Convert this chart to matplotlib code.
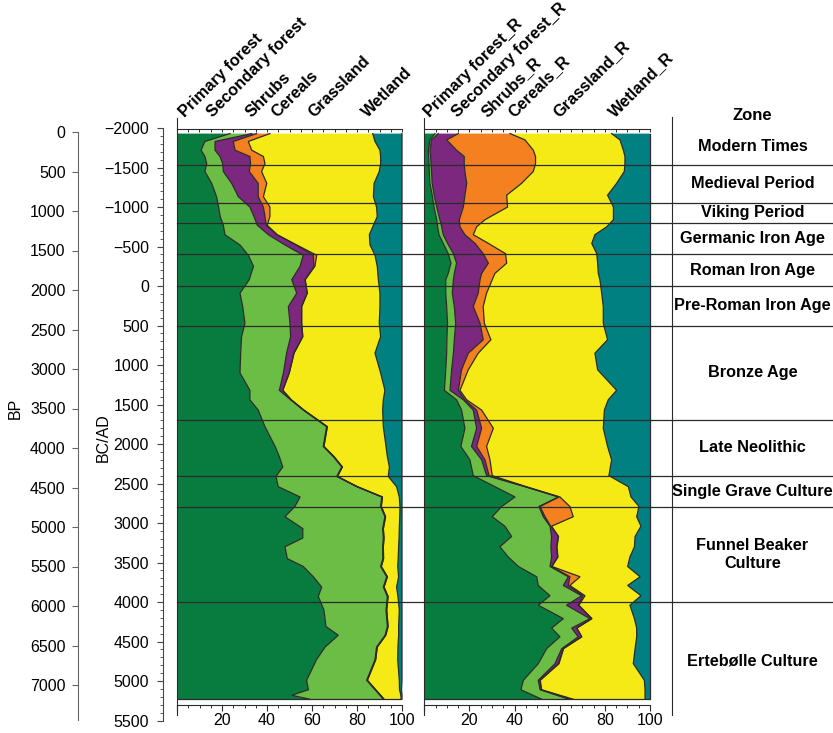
import numpy as np
import matplotlib
matplotlib.use("Agg")
import matplotlib.pyplot as plt
from matplotlib.ticker import MultipleLocator, FuncFormatter, NullLocator
from matplotlib.transforms import blended_transform_factory
from matplotlib.lines import Line2D

plt.rcParams['font.family'] = ['Liberation Sans', 'DejaVu Sans']

# ---- data (percentages) ----
left_bp = [20, 120, 230, 310, 400, 500, 650, 820, 950, 1070, 1180, 1300, 1430, 1560, 1700,
           1870, 2040, 2210, 2420, 2590, 2800, 3050, 3270, 3390, 3520, 3730, 3980, 4110, 4240,
           4360, 4490, 4620, 4740, 4870, 5020, 5140, 5250, 5400, 5500, 5630, 5760, 5880, 6050,
           6260, 6370, 6520, 6680, 6940, 7060, 7130, 7180]
primary_L = [23.6, 12.4, 10.7, 12.4, 13.2, 12.4, 15.4, 17.6, 18.5, 19.2, 20.6, 21.3, 28.0, 31.7,
             34.0, 32.1, 28.0, 29.2, 30.2, 28.7, 28.3, 28.0, 32.4, 32.4, 36.1, 39.1, 43.6, 45.5,
             47.0, 44.0, 45.0, 54.7, 52.4, 48.0, 55.9, 55.9, 48.0, 49.0, 56.1, 60.6, 64.3, 62.8,
             65.3, 66.2, 71.7, 65.8, 62.0, 57.6, 58.4, 51.0, 59.0]
secondary_L = [9.6, 4.5, 6.2, 6.7, 7.1, 8.2, 8.9, 9.7, 13.9, 15.0, 15.1, 19.3, 20.0, 24.4, 20.7,
               18.9, 25.2, 20.3, 20.0, 21.8, 20.4, 19.3, 13.1, 18.1, 20.0, 27.4, 21.4, 24.0, 26.2,
               27.0, 34.9, 36.3, 38.1, 44.4, 35.5, 35.8, 43.4, 42.5, 34.4, 32.6, 27.4, 30.7, 27.6,
               27.3, 20.8, 22.9, 26.0, 26.7, 29.6, 39.2, 32.7]
shrubs_L = [2.2, 8.1, 8.9, 13.3, 12.4, 11.5, 11.8, 8.8, 6.0, 4.9, 3.9, 3.7, 4.9, 4.5, 6.2, 5.9,
            4.7, 5.9, 5.2, 5.4, 3.3, 2.6, 1.5] + [0.3] * 28
cereals_L = [5.9, 6.7, 7.4, 6.0, 6.4, 5.5, 3.8, 2.3, 2.9, 2.2, 0.5, 0.3, 0.3, 1.5, 0.4, 0.1] + [0.0] * 35
grass_L = [45.7, 56.3, 57.0, 52.1, 51.4, 52.3, 47.7, 48.9, 47.4, 47.7, 47.2, 40.9, 32.6, 25.9,
           27.7, 32.5, 32.3, 34.8, 34.5, 34.6, 36.0, 40.6, 45.4, 40.9, 35.0, 24.9, 27.6, 23.7,
           20.9, 22.6, 17.4, 7.5, 8.3, 6.3, 7.1, 6.7, 6.8, 6.5, 7.3, 5.0, 5.6, 4.4, 5.6, 4.7, 5.7,
           9.2, 9.8, 14.2, 10.6, 9.0, 7.6]
wetland_L = [13.0, 12.0, 9.8, 9.5, 9.5, 10.1, 12.4, 12.7, 11.3, 11.0, 12.7, 14.5, 14.2, 12.0,
             11.0, 10.5, 9.8, 9.8, 10.1, 9.5, 12.0, 9.5, 7.6, 8.3, 8.6, 8.3, 7.1, 6.5, 5.6, 6.1,
             2.4, 1.2, 0.9, 1.0, 1.2, 1.3, 1.5, 1.7, 1.9, 1.5, 2.4, 1.8, 1.2, 1.5, 1.5, 1.8, 1.9,
             1.2, 0.9, 0.5, 0.4]

right_bp = [20, 100, 230, 310, 400, 500, 650, 800, 950, 1110, 1200, 1300, 1410, 1540, 1660,
            1790, 1870, 2040, 2210, 2420, 2630, 2800, 3010, 3270, 3390, 3520, 3750, 3980, 4150,
            4350, 4490, 4620, 4740, 4870, 4990, 5120, 5250, 5380, 5500, 5630, 5740, 5870, 5990,
            6160, 6280, 6390, 6540, 6730, 6940, 7060, 7180]
primary_R = [4.7, 2.5, 1.8, 1.9, 2.1, 2.2, 2.5, 3.5, 4.3, 5.5, 5.9, 6.5, 8.4, 10.6, 11.8, 10.6,
             9.5, 9.5, 9.9, 10.3, 10.0, 9.9, 9.5, 8.9, 14.3, 16.5, 18.0, 16.2, 20.2, 21.7, 31.3,
             40.2, 34.3, 30.1, 35.7, 38.7, 33.5, 37.2, 41.7, 49.8, 50.5, 55.7, 50.5, 61.6, 56.4,
             60.1, 54.2, 50.5, 43.9, 42.8, 52.0]
secondary_R = [1.5, 0.7, 0.7, 0.9, 0.9, 1.0, 1.0, 0.9, 1.2, 1.4, 1.8, 1.9, 1.9, 2.3, 2.5, 2.7,
               3.4, 2.9, 3.4, 3.6, 3.3, 3.0, 2.6, 2.5, 3.0, 5.2, 5.2, 4.7, 5.2, 5.9, 13.3, 19.2,
               16.5, 22.6, 20.0, 17.7, 22.6, 19.2, 14.0, 14.0, 11.1, 14.0, 12.5, 11.8, 8.9, 8.1,
               6.7, 7.4, 6.6, 8.5, 12.1]
shrubs_R = [8.9, 6.7, 11.8, 14.9, 14.7, 14.8, 15.3, 13.6, 11.8, 8.6, 8.1, 9.6, 12.2, 13.2, 14.1,
            12.1, 11.8, 11.5, 8.4, 10.8, 12.8, 6.6, 4.4, 3.7, 0.7, 1.5, 2.2, 2.3, 1.5, 1.1, 0.3,
            0.3, 0.5, 0.8, 0.3, 3.0, 2.5, 2.7, 0.7, 0.7, 2.2, 0.7, 5.2, 0.8, 2.2, 1.5, 0.7, 1.5,
            0.8, 0.4, 0.6]
cereals_R = [22.9, 34.7, 34.0, 31.6, 31.6, 30.3, 24.3, 18.5, 19.6, 11.4, 7.4, 3.7, 5.9, 9.9, 8.1,
             5.9, 5.4, 3.7, 4.4, 1.9, 3.4, 4.4, 3.0, 0.7, 0.8, 2.2, 5.2, 4.4, 2.2, 1.4, 0.3, 0.4,
             13.2, 12.5, 0.4, 0.1, 0.2, 0.1, 0.2, 4.5, 0.7, 0.8, 0.3, 0.1, 0.1, 0.1, 0.1, 0.3,
             0.1, 0.3, 1.3]
grass_R = [45.0, 42.1, 39.9, 39.6, 39.6, 40.3, 42.1, 44.7, 46.9, 56.9, 57.6, 53.9, 45.8, 40.4,
           40.3, 45.8, 47.7, 51.0, 53.2, 52.7, 51.7, 51.7, 57.3, 69.4, 62.7, 54.4, 48.7, 53.6,
           53.9, 51.7, 45.2, 31.5, 30.6, 28.1, 39.6, 33.9, 34.3, 31.9, 33.5, 26.6, 25.6, 24.8,
           22.6, 18.8, 26.5, 24.3, 31.7, 32.9, 46.1, 45.8, 31.8]
wetland_R = [17.0, 13.3, 11.8, 11.1, 11.1, 11.4, 14.8, 18.8, 16.2, 16.2, 19.2, 24.4, 25.8, 23.6,
             23.2, 22.9, 22.2, 21.4, 20.7, 20.7, 18.8, 24.4, 23.2, 14.8, 18.5, 20.2, 20.7, 18.8,
             17.0, 18.2, 9.6, 8.4, 4.9, 5.9, 4.0, 6.6, 6.9, 8.9, 9.9, 4.4, 9.9, 4.0, 8.9, 6.9,
             5.9, 5.9, 6.6, 7.4, 2.5, 2.2, 2.2]

names_L = ['Primary forest', 'Secondary forest', 'Shrubs', 'Cereals', 'Grassland', 'Wetland']
names_R = ['Primary forest_R', 'Secondary forest_R', 'Shrubs_R', 'Cereals_R', 'Grassland_R', 'Wetland_R']
colors = ['#087c3e', '#6cbd45', '#7c287e', '#f58020', '#f6ea16', '#008080']

# zone boundaries in BC/AD years (negative = AD)
zone_edges = [-2000, -1536, -1050, -800, -400, 0, 500, 1700, 2400, 2800, 4000, 5500]
zone_names = ['Modern Times', 'Medieval Period', 'Viking Period', 'Germanic Iron Age',
              'Roman Iron Age', 'Pre-Roman Iron Age', 'Bronze Age', 'Late Neolithic',
              'Single Grave Culture', 'Funnel Beaker\nCulture', 'Ertebølle Culture']

# ---- layout helpers (pixel based) ----
W, H = 833, 733
Y0, K = 132.0, 0.079  # pixel row of 0 BP, pixels per year
LINE = '#2b2b2b'


def bp(px):
    return (px - Y0) / K


fig = plt.figure(figsize=(W / 100, H / 100), dpi=100)


def add_ax(left, top, right, bottom):
    return fig.add_axes([left / W, 1 - bottom / H, (right - left) / W, (bottom - top) / H])


def bare(ax):
    ax.patch.set_visible(False)
    for s in ['top', 'right', 'bottom']:
        ax.spines[s].set_visible(False)
    ax.xaxis.set_major_locator(NullLocator())


# BP axis
ax_bp = add_ax(78, Y0, 79, 720)
bare(ax_bp)
ax_bp.set_ylim(bp(720), 0)
ax_bp.spines['left'].set_color('#666666')
ax_bp.yaxis.set_major_locator(MultipleLocator(500))
ax_bp.tick_params(axis='y', direction='out', length=4, width=0.8, color='#666666',
                  labelsize=11.5, pad=5)
fig.text(15 / W, 1 - 408 / H, 'BP', rotation=90, ha='center', va='center', fontsize=11.5)

# BC/AD axis
ax_bc = add_ax(163, Y0 + K * (-50), 164, Y0 + K * 7450)
bare(ax_bc)
ax_bc.set_ylim(5500, -2000)
ax_bc.spines['left'].set_color('#444444')
ax_bc.yaxis.set_major_locator(MultipleLocator(500))
ax_bc.yaxis.set_minor_locator(MultipleLocator(100))
ax_bc.tick_params(axis='y', which='major', direction='out', length=4, width=0.8,
                  color='#444444', labelsize=11.5, pad=6)
ax_bc.tick_params(axis='y', which='minor', direction='out', length=2, width=0.6, color='#444444')
fig.text(103 / W, 1 - 438 / H, 'BC/AD', rotation=90, ha='center', va='center', fontsize=11.5)


def draw_panel(ax, depth, layers, names, label_x):
    depth = np.array(depth)
    cum = np.zeros(len(depth))
    for vals, col in zip(layers, colors):
        top = cum + np.array(vals)
        ax.fill_betweenx(depth, cum, top, facecolor=col, edgecolor='none', linewidth=0)
        cum = top
    cum = np.zeros(len(depth))
    for vals in layers:
        cum = cum + np.array(vals)
        ax.plot(cum, depth, color=LINE, lw=0.9, clip_on=False, solid_joinstyle='miter')
    ax.hlines(depth[-1], 0, 100, color=LINE, lw=0.9)

    ax.set_xlim(0, 100)
    ax.set_ylim(bp(715), bp(118))
    ax.patch.set_visible(False)
    ax.spines['top'].set_visible(False)
    ax.spines['right'].set_visible(False)
    ax.spines['left'].set_color(LINE)
    ax.spines['bottom'].set_color(LINE)
    ax.spines['bottom'].set_position(('data', bp(704.5)))
    ax.set_yticks([])
    ax.xaxis.set_major_locator(MultipleLocator(20))
    ax.xaxis.set_minor_locator(MultipleLocator(5))
    ax.xaxis.set_major_formatter(FuncFormatter(lambda v, p: '' if v == 0 else f'{v:.0f}'))
    ax.tick_params(axis='x', which='major', direction='out', length=4, width=0.8,
                   color=LINE, labelsize=11.5, pad=2)
    ax.tick_params(axis='x', which='minor', direction='out', length=2.5, width=0.7, color=LINE)

    sec = ax.secondary_xaxis((715 - 129.3) / (715 - 118))
    sec.xaxis.set_major_locator(MultipleLocator(5))
    sec.tick_params(axis='x', direction='in', length=1.8, width=0.7, color=LINE,
                    labeltop=False)
    sec.spines['top'].set_color(LINE)

    for x, name in zip(label_x, names):
        ax.text(x, bp(118), name, rotation=45, rotation_mode='anchor', ha='left',
                va='baseline', fontsize=11.8, fontweight='bold')


ax_l = add_ax(177, 118, 402, 715)
draw_panel(ax_l, left_bp,
           [primary_L, secondary_L, shrubs_L, cereals_L, grass_L, wetland_L],
           names_L, [3.6, 16.0, 33.3, 44.4, 60.9, 84.9])

ax_r = add_ax(424.3, 118, 650, 715)
draw_panel(ax_r, right_bp,
           [primary_R, secondary_R, shrubs_R, cereals_R, grass_R, wetland_R],
           names_R, [2.5, 14.9, 27.9, 39.9, 59.7, 84.5])

# zone column
ax_z = add_ax(672, 117, 833, 715)
ax_z.set_ylim(bp(715), bp(117))
ax_z.set_xlim(0, 1)
bare(ax_z)
ax_z.set_yticks([])
ax_z.spines['left'].set_color(LINE)
ax_z.text(0.5, bp(115), 'Zone', ha='center', va='center', fontsize=12, fontweight='bold')
for top_e, bot_e, name in zip(zone_edges[:-1], zone_edges[1:], zone_names):
    mid = (top_e + bot_e) / 2 + 1950
    ax_z.text(0.5, mid, name, ha='center', va='center', fontsize=11.7, fontweight='bold',
              linespacing=1.25)

# zone boundary lines across the panels
trans = blended_transform_factory(fig.transFigure, ax_l.transData)
for e in zone_edges[1:-1]:
    fig.add_artist(Line2D([177 / W, 1.0], [e + 1950, e + 1950], transform=trans,
                          color=LINE, lw=0.9))

fig.savefig('out.png', dpi=100)
